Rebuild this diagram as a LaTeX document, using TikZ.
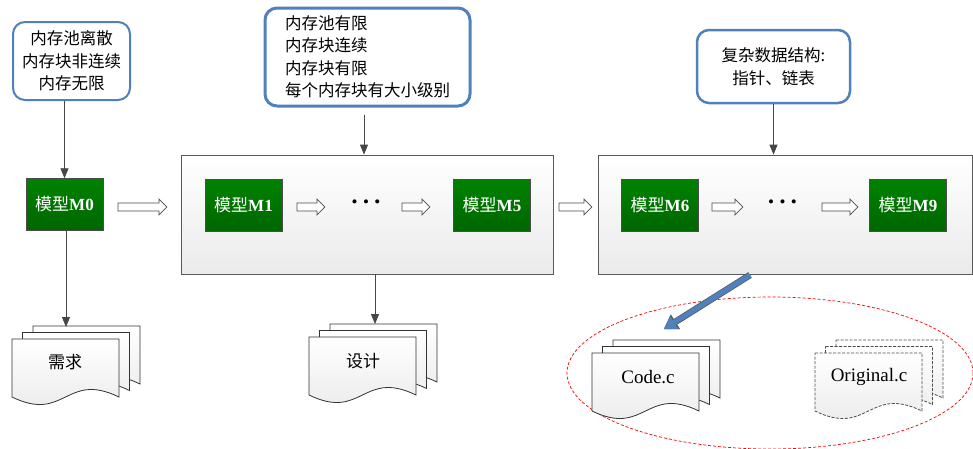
\documentclass[tikz,border=0pt]{standalone}
\usepackage{fontspec}
\setmainfont{Liberation Serif}
\newfontfamily\cjk{Noto Sans CJK SC}
\usetikzlibrary{arrows.meta,shapes.geometric,shapes.arrows,calc}

\definecolor{modelgreen}{RGB}{0,130,0}
\definecolor{modelgreendark}{RGB}{0,102,0}
\definecolor{noteblue}{RGB}{79,129,189}
\definecolor{linegray}{RGB}{70,70,70}

\tikzset{
    model/.style={draw=gray!60!black, top color=modelgreen, bottom color=modelgreendark,
        text=white, minimum width=77pt, minimum height=52pt, inner sep=0pt,
        font=\fontsize{17}{17}\selectfont},
    stage/.style={draw=gray!70!black, line width=0.8pt, top color=white, bottom color=black!8,
        minimum height=119pt, inner sep=0pt},
    note/.style={draw=noteblue, rounded corners=12pt, line width=2pt, fill=white,
        align=center, inner sep=0pt, font=\cjk\fontsize{16.5}{22.5}\selectfont},
    flow/.style={draw=linegray, line width=0.8pt, -{Triangle[length=10pt,width=8pt]}},
    hollow/.style={single arrow, draw=gray!60!black, fill=white, line width=0.7pt,
        minimum width=16pt, single arrow head extend=4pt, single arrow tip angle=90,
        inner xsep=0pt, inner ysep=3.5pt, minimum height=#1},
    fat/.style={line width=5pt, draw=noteblue,
        -{Triangle[length=12pt,width=15pt,line width=0.1pt]},
        preaction={draw=gray!70!black, line width=6.6pt,
            -{Triangle[length=13.5pt,width=17.5pt,line width=0.1pt]}}},
    page/.style={draw=gray!40!black, line width=0.8pt, top color=white, bottom color=black!9},
    doclabel/.style={font=\cjk\fontsize{17}{17}\selectfont},
    filelabel/.style={font=\fontsize{19}{19}\selectfont},
    dotrow/.style={font=\fontsize{17}{17}\selectfont},
}

% one sheet with a wavy lower edge, (x,y) is its top left corner
\newcommand\docpage[3][]{%
    \path[page,#1] (#2,#3) -- ++(107,0) -- ++(0,58)
        .. controls +(-53.5,-26) and +(53.5,26) .. ++(-107,0) -- cycle;}
% three sheets, back to front
\newcommand\docstack[3][]{%
    \docpage[#1]{#2+21}{#3-13}
    \docpage[#1]{#2+10.5}{#3-6.5}
    \docpage[#1]{#2}{#3}}

\begin{document}
\begin{tikzpicture}[x=1pt, y=-1pt]
    \useasboundingbox (0,0) rectangle (973,448);

    % 前提条件
    \node[note, minimum width=117pt, minimum height=78pt] (n0) at (71.5,61)
        {内存池离散\\内存块非连续\\内存无限};
    \node[note, align=left, line width=3pt, minimum width=205pt, minimum height=98pt] (n1) at (367.5,57)
        {内存池有限\\内存块连续\\内存块有限\\每个内存块有大小级别};
    \node[note, line width=2.5pt, minimum width=153pt, minimum height=73pt] (n2) at (773.5,66.5)
        {复杂数据结构:\\指针、链表};

    % 两个阶段
    \node[stage, minimum width=372pt] (s1) at (367,214.5) {};
    \node[stage, minimum width=374pt] (s2) at (785,214.5) {};

    % 模型
    \node[model] (m0) at (64.5,204.5) {{\cjk 模型}\textbf{M0}};
    \node[model] (m1) at (243.5,205) {{\cjk 模型}\textbf{M1}};
    \node[model] (m5) at (492,205) {{\cjk 模型}\textbf{M5}};
    \node[model] (m6) at (660,205) {{\cjk 模型}\textbf{M6}};
    \node[model] (m9) at (908,205) {{\cjk 模型}\textbf{M9}};

    \node[dotrow] (dots1) at (366,204)
        {\textbullet\hspace{5.5pt}\textbullet\hspace{5.5pt}\textbullet};
    \node[dotrow] (dots2) at (782.5,204)
        {\textbullet\hspace{5.5pt}\textbullet\hspace{5.5pt}\textbullet};

    % 空心箭头
    \node[hollow=49pt] (h0) at (140.5,207) {};
    \node[hollow=28pt] (h1) at (309,207) {};
    \node[hollow=28pt] (h2) at (414,207) {};
    \node[hollow=33pt] (h3) at (573.5,207) {};
    \node[hollow=31pt] (h4) at (725.5,207) {};
    \node[hollow=36pt] (h5) at (838,207) {};

    % 文档
    \docstack{12}{339}
    \docstack{309}{337}
    \node[draw=red, dashed, dash pattern=on 3pt off 2pt, line width=0.7pt, ellipse,
        minimum width=406pt, minimum height=152pt] (out) at (770,373) {};
    \docstack{592}{353}
    \docstack[draw=gray!60!black, dashed, dash pattern=on 3pt off 1.5pt]{815}{353}

    \node[doclabel] (req) at (65,362) {需求};
    \node[doclabel] (dsg) at (363,361) {设计};
    \node[filelabel] (code) at (648,377) {Code.c};
    \node[filelabel] (orig) at (869,377) {Original.c};

    \coordinate (reqtop) at (66,327);
    \coordinate (dsgtop) at (375,324);
    \coordinate (s2out) at (750,275);
    \coordinate (codetop) at (664,329);

    % 连线
    \draw[flow] (n0.south -| m0) -- (m0.north);
    \draw[flow] ([yshift=-7pt]n1.south -| 364,0) -- (s1.north -| 364,0);
    \draw[flow] (n2.south) -- (n2.south |- s2.north);
    \draw[flow] (m0.south -| reqtop) -- (reqtop);
    \draw[flow] (s1.south -| dsgtop) -- (dsgtop);
    \draw[fat] (s2out) -- (codetop);
\end{tikzpicture}
\end{document}
